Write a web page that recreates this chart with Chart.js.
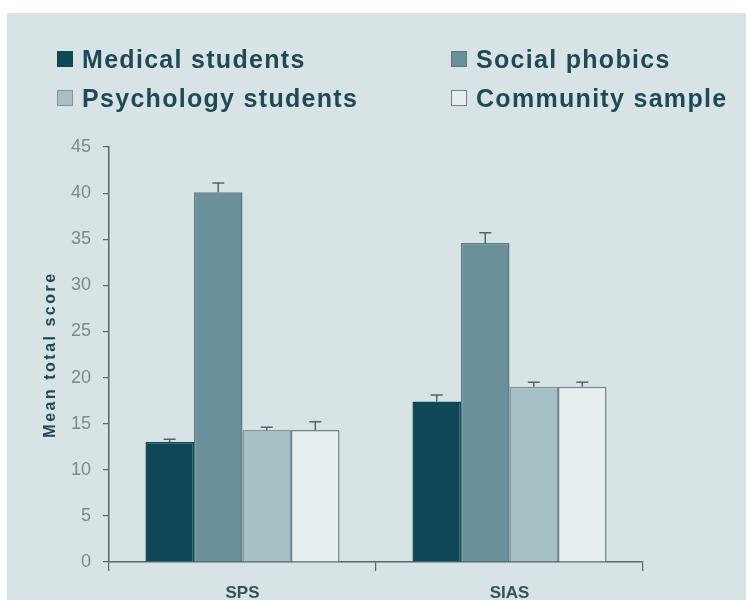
<!DOCTYPE html>
<html>
<head>
<meta charset="utf-8">
<script src="https://cdn.jsdelivr.net/npm/chart.js@4.4.1/dist/chart.umd.min.js"></script>
<style>
  html, body { margin: 0; padding: 0; background: #ffffff; }
  #chart { display: block; }
</style>
</head>
<body>
<canvas id="chart" width="746" height="600"></canvas>
<script>
// Scale categories and group labels
const categories = ['SPS', 'SIAS'];
const groupNames = ['Medical students', 'Social phobics', 'Psychology students', 'Community sample'];

// Mean total scores per group (SPS, SIAS)
const medicalStudents = [13.0, 17.4];
const socialPhobics = [40.1, 34.6];
const psychologyStudents = [14.3, 19.0];
const communitySample = [14.3, 19.0];

// Standard errors per group (SPS, SIAS)
const medicalStudentsErr = [0.3, 0.7];
const socialPhobicsErr = [1.0, 1.1];
const psychologyStudentsErr = [0.3, 0.5];
const communitySampleErr = [0.9, 0.5];

// Value axis ticks
const yMin = 0;
const yMax = 45;
const yStep = 5;

const axisTitle = 'Mean total score';

const fills = ['#0e4756', '#6a9199', '#a6c0c4', '#e6eef0'];
const borders = ['#0e4756', '#5b7a80', '#7d959a', '#72878b'];
const values = [medicalStudents, socialPhobics, psychologyStudents, communitySample];
const errors = [medicalStudentsErr, socialPhobicsErr, psychologyStudentsErr, communitySampleErr];

const datasets = groupNames.map((name, i) => ({
  label: name,
  data: values[i],
  errors: errors[i],
  backgroundColor: fills[i],
  borderColor: borders[i],
  borderWidth: 1.5,
  categoryPercentage: 0.727,
  barPercentage: 1.0
}));

// Panel background with a thin white margin at the top and left
const panelBackground = {
  id: 'panelBackground',
  beforeDraw(chart) {
    const ctx = chart.ctx;
    ctx.save();
    ctx.fillStyle = '#ffffff';
    ctx.fillRect(0, 0, chart.width, chart.height);
    ctx.fillStyle = '#d8e3e5';
    ctx.fillRect(7, 13, chart.width - 7, chart.height - 13);
    ctx.restore();
  }
};

// Upper error whiskers with caps
const errorBars = {
  id: 'errorBars',
  afterDatasetsDraw(chart) {
    const ctx = chart.ctx;
    const y = chart.scales.y;
    ctx.save();
    ctx.strokeStyle = '#50666b';
    ctx.lineWidth = 1.5;
    chart.data.datasets.forEach((ds, di) => {
      const meta = chart.getDatasetMeta(di);
      meta.data.forEach((bar, i) => {
        const v = ds.data[i];
        const e = ds.errors[i];
        const top = y.getPixelForValue(v + e);
        const base = y.getPixelForValue(v);
        ctx.beginPath();
        ctx.moveTo(bar.x, base);
        ctx.lineTo(bar.x, top);
        ctx.moveTo(bar.x - 6, top);
        ctx.lineTo(bar.x + 6, top);
        ctx.stroke();
      });
    });
    ctx.restore();
  }
};

// Two-column legend above the plot
const gridLegend = {
  id: 'gridLegend',
  afterDraw(chart) {
    const ctx = chart.ctx;
    const colX = [57, 451];
    const rowBaseline = [68, 107];
    ctx.save();
    ctx.font = 'bold 25px "Liberation Sans", Arial, sans-serif';
    ctx.letterSpacing = '1.3px';
    ctx.textBaseline = 'alphabetic';
    ctx.textAlign = 'left';
    chart.data.datasets.forEach((ds, i) => {
      const x = colX[i % 2];
      const base = rowBaseline[Math.floor(i / 2)];
      ctx.fillStyle = ds.backgroundColor;
      ctx.fillRect(x, base - 17, 16, 16);
      ctx.strokeStyle = ds.borderColor;
      ctx.lineWidth = 1;
      ctx.strokeRect(x + 0.5, base - 16.5, 15, 15);
      ctx.fillStyle = '#1d4a56';
      ctx.fillText(ds.label, x + 25, base);
    });
    ctx.restore();
  }
};

// Rotated value-axis title
const yTitle = {
  id: 'yTitle',
  afterDraw(chart) {
    const ctx = chart.ctx;
    const area = chart.chartArea;
    ctx.save();
    ctx.translate(51, (area.top + area.bottom) / 2);
    ctx.rotate(-Math.PI / 2);
    ctx.font = 'bold 16px "Liberation Sans", Arial, sans-serif';
    ctx.letterSpacing = '2.5px';
    ctx.fillStyle = '#1d4a56';
    ctx.textAlign = 'center';
    ctx.textBaseline = 'middle';
    ctx.fillText(axisTitle, 0, 0);
    ctx.restore();
  }
};

new Chart(document.getElementById('chart'), {
  type: 'bar',
  data: { labels: categories, datasets },
  options: {
    responsive: false,
    animation: false,
    layout: { padding: { top: 147, left: 0, right: 103, bottom: 0 } },
    plugins: {
      legend: { display: false },
      tooltip: { enabled: false }
    },
    scales: {
      x: {
        grid: {
          offset: true,
          drawOnChartArea: false,
          drawTicks: true,
          tickLength: 9,
          color: '#55686d',
          lineWidth: 1.2
        },
        border: { display: true, color: '#55686d', width: 1.5 },
        ticks: {
          padding: 12,
          color: '#34545c',
          font: { family: '"Liberation Sans", Arial, sans-serif', size: 17, weight: 'bold' }
        },
        afterFit(scale) { scale.height = 38; }
      },
      y: {
        min: yMin,
        max: yMax,
        ticks: {
          stepSize: yStep,
          padding: 12,
          color: '#778b90',
          font: { family: '"Liberation Sans", Arial, sans-serif', size: 18 }
        },
        grid: {
          drawOnChartArea: false,
          drawTicks: true,
          tickLength: 6,
          color: '#55686d',
          lineWidth: 1.2
        },
        border: { display: true, color: '#55686d', width: 1.5 },
        afterFit(scale) { scale.width = 109; }
      }
    }
  },
  plugins: [panelBackground, errorBars, gridLegend, yTitle]
});
</script>
</body>
</html>
